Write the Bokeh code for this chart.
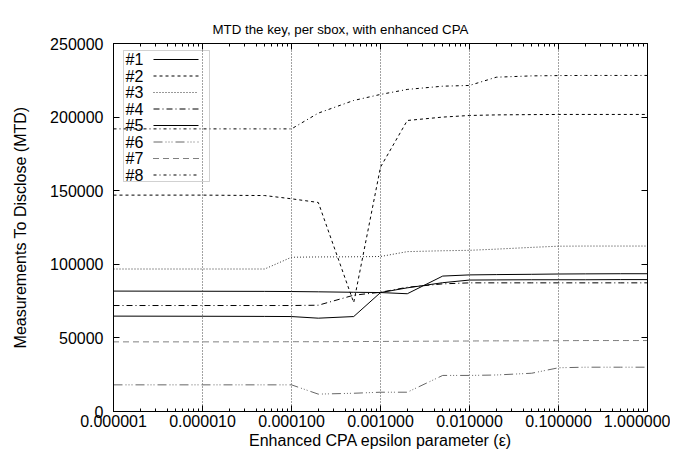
from bokeh.plotting import figure
from bokeh.models import FixedTicker, LogAxis, LinearAxis, Label, Arrow, BoxAnnotation, Range1d
from bokeh.embed import file_html
from bokeh.resources import INLINE

# ---- data ----
eps = [1e-6, 1e-5, 5e-5, 1e-4, 2e-4, 5e-4, 1e-3, 2e-3, 5e-3, 1e-2, 2e-2, 5e-2, 1e-1, 2e-1, 5e-1, 1.0]
sbox1 = [81800, 81700, 81600, 81500, 81300, 81000, 80800, 80000, 92000, 92800, 93000, 93200, 93400, 93500, 93600, 93600]
sbox2 = [147000, 147000, 146700, 144500, 142000, 74000, 166000, 197700, 200000, 201100, 201500, 201700, 201800, 201800, 201800, 201800]
sbox3 = [96800, 96800, 96800, 104800, 105000, 105100, 105300, 108600, 109200, 109500, 110300, 111500, 112300, 112400, 112400, 112400]
sbox4 = [72000, 72000, 72000, 72000, 72200, 79000, 81000, 84400, 86700, 87400, 87400, 87400, 87400, 87400, 87400, 87400]
sbox5 = [64800, 64700, 64600, 64500, 63400, 64500, 80800, 84000, 87500, 89300, 89400, 89500, 89500, 89500, 89600, 89600]
sbox6 = [18100, 18100, 18100, 18100, 11800, 12400, 13100, 13100, 24500, 24500, 24800, 26000, 29700, 30100, 30100, 30100]
sbox7 = [47300, 47300, 47300, 47400, 47400, 47500, 47600, 47700, 47800, 47900, 48000, 48000, 48100, 48200, 48200, 48200]
sbox8 = [192000, 192000, 192000, 192000, 202700, 211300, 215400, 218800, 221000, 221500, 227100, 228000, 228200, 228300, 228300, 228300]

series_names = ["#1", "#2", "#3", "#4", "#5", "#6", "#7", "#8"]
series_values = [sbox1, sbox2, sbox3, sbox4, sbox5, sbox6, sbox7, sbox8]

x_ticks = [1e-6, 1e-5, 1e-4, 1e-3, 1e-2, 1e-1, 1.0]
x_tick_labels = ["0.000001", "0.000010", "0.000100", "0.001000", "0.010000", "0.100000", "1.000000"]
y_ticks = [0, 50000, 100000, 150000, 200000, 250000]
y_tick_labels = ["0", "50000", "100000", "150000", "200000", "250000"]

title_text = "MTD the key, per sbox, with enhanced CPA"
x_label = "Enhanced CPA epsilon parameter (\u03b5)"
y_label = "Measurements To Disclose (MTD)"

# ---- styles ----
dashes = ["solid", "3 3", "1 2", "6 3 1 3", "solid", "9 3 1 2 1 2 1 3", "1 1 1 1 1 5", "3 3 1 3"]
colors = ["black", "black", "#333333", "black", "black", "#666666", "black", "black"]
FONT = "Liberation Sans"

minor = [m * d for d in x_ticks[:-1] for m in range(2, 10)]
xticker = FixedTicker(ticks=x_ticks, minor_ticks=minor)
yticker = FixedTicker(ticks=y_ticks, minor_ticks=[])

p = figure(width=670, height=452, x_axis_type="log",
           x_range=Range1d(1e-6, 1.0), y_range=Range1d(0, 250000),
           output_backend="svg", toolbar_location=None, title=title_text,
           min_border_left=113, min_border_right=23, min_border_top=43, min_border_bottom=41)
p.outline_line_color = "black"
p.outline_line_width = 1

p.title.align = "left"
p.title.offset = 99
p.title.vertical_align = "top"
p.title.text_font = FONT
p.title.text_font_size = "13.3px"
p.title.text_font_style = "normal"
p.title.text_color = "black"
p.title.standoff = 10

for ax in (p.xaxis[0], p.yaxis[0]):
    ax.major_tick_in = 6
    ax.major_tick_out = 0
    ax.minor_tick_in = 3
    ax.minor_tick_out = 0
    ax.major_label_text_font = FONT
    ax.major_label_text_font_size = "16px"
    ax.major_label_text_color = "black"
    ax.axis_label_text_font = FONT
    ax.axis_label_text_font_size = "16px"
    ax.axis_label_text_font_style = "normal"
    ax.axis_label_text_color = "black"
    ax.axis_line_color = "black"

p.xaxis[0].ticker = xticker
p.xaxis[0].major_label_overrides = dict(zip(x_ticks, x_tick_labels))
p.xaxis[0].major_label_standoff = 3
p.xaxis[0].axis_label = x_label
p.xaxis[0].axis_label_standoff = 2
p.yaxis[0].ticker = yticker
p.yaxis[0].major_label_overrides = dict(zip(y_ticks, y_tick_labels))
p.yaxis[0].minor_tick_in = 0
p.yaxis[0].major_label_standoff = 10
p.yaxis[0].axis_label = y_label
p.yaxis[0].axis_label_standoff = 18

top = LogAxis(ticker=xticker, major_tick_in=6, major_tick_out=0, minor_tick_in=3, minor_tick_out=0,
              major_label_text_font_size="1px", major_label_text_alpha=0, major_label_standoff=0)
right = LinearAxis(ticker=yticker, major_tick_in=6, major_tick_out=0, minor_tick_in=0, minor_tick_out=0,
                   major_label_text_font_size="1px", major_label_text_alpha=0, major_label_standoff=0)
p.add_layout(top, "above")
p.add_layout(right, "right")

p.xgrid.ticker = xticker
p.xgrid.grid_line_color = "#444444"
p.xgrid.grid_line_dash = "1 2"
p.ygrid.visible = False

for name, vals, dash, col in zip(series_names, series_values, dashes, colors):
    p.line(eps, vals, line_color=col, line_width=1, line_dash=dash)

# legend (label left, sample right)
p.add_layout(BoxAnnotation(left=10, right=96, top=361, bottom=230,
                           left_units="screen", right_units="screen", top_units="screen", bottom_units="screen",
                           fill_alpha=0, line_color="#666666", line_width=1))
for i, (name, dash, col) in enumerate(zip(series_names, dashes, colors)):
    yy = 352 - 16.5 * i
    p.add_layout(Label(x=12, y=yy, x_units="screen", y_units="screen", text=name,
                       text_align="left", text_baseline="middle", text_font=FONT,
                       text_font_size="16px", text_color="black"))
    p.add_layout(Arrow(x_start=40, y_start=yy, x_end=85, y_end=yy, start_units="screen", end_units="screen",
                       start=None, end=None, line_color=col, line_width=1, line_dash=dash))

open("out.html", "w").write(file_html(p, INLINE))
